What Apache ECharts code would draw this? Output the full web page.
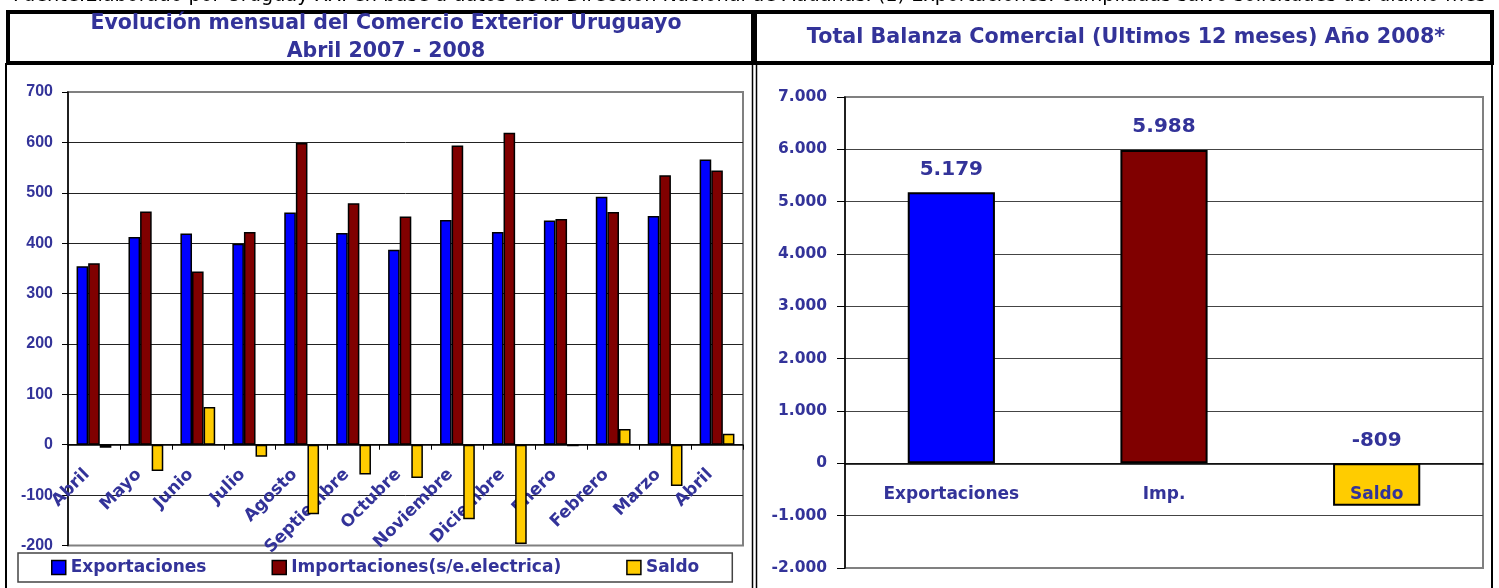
<!DOCTYPE html>
<html>
<head>
    <meta charset='utf-8' />
    <title>Comercio Exterior Uruguayo</title>
    <script src="https://cdn.jsdelivr.net/npm/echarts@6/dist/echarts.min.js"></script>
</head>
<body style='margin:0;background:#fff;'>
<div id='chart' style='width:1499px;height:588px;'></div>

<script type='text/javascript'>
    // datos - grafico mensual
    var meses = ['Abril', 'Mayo', 'Junio', 'Julio', 'Agosto', 'Septiembre', 'Octubre', 'Noviembre', 'Diciembre', 'Enero', 'Febrero', 'Marzo', 'Abril'];
    var exportaciones = [354, 412, 419, 399, 461, 420, 387, 446, 422, 445, 492, 454, 566];
    var importaciones = [360, 463, 344, 422, 599, 479, 453, 594, 619, 448, 462, 535, 544];
    var saldo = [-6, -52, 75, -24, -138, -59, -66, -148, -197, -3, 31, -82, 22];

    // datos - total 12 meses
    var totalCats = ['Exportaciones', 'Imp.', 'Saldo'];
    var totalValores = [5179, 5988, -809];
    var totalColores = ['#0000ff', '#800000', '#ffcc00'];

    var azul = '#333399';
    var fuente = 'DejaVu Sans';

    function miles(v) {
        return String(v).replace(/\B(?=(\d{3})+(?!\d))/g, '.');
    }

    // grids (px)
    var g1 = {left: 68, right: 756, top: 92, bottom: 42.5};
    var g2 = {left: 845, right: 16, top: 97, bottom: 20};
    var H = 588;
    // distancia del cero al borde inferior, para poner el eje de categorias en 0
    var off1 = -(H - g1.top - g1.bottom) * (0 - (-200)) / (700 - (-200));
    var off2 = -(H - g2.top - g2.bottom) * (0 - (-2000)) / (7000 - (-2000));

    var chartDom = document.getElementById('chart');
    var myChart = echarts.init(chartDom);

    var option = {
        animation: false,
        title: [
            {
                text: 'Evolución mensual del Comercio Exterior Uruguayo\nAbril 2007 - 2008',
                left: 386, top: 10, padding: 0,
                textAlign: 'center',
                textStyle: {color: azul, fontFamily: fuente, fontWeight: 'bold', fontSize: 20.5, lineHeight: 28}
            },
            {
                text: 'Total Balanza Comercial (Ultimos 12 meses) Año 2008*',
                left: 1126, top: 24, padding: 0,
                textAlign: 'center',
                textStyle: {color: azul, fontFamily: fuente, fontWeight: 'bold', fontSize: 20.7, lineHeight: 28}
            }
        ],
        graphic: [
            {
                type: 'text', left: 13, top: -14,
                style: {
                    text: 'Fuente:Elaborado por Uruguay XXI en base a datos de la Dirección Nacional de Aduanas. (1) Exportaciones: cumpliadas salvo solicitudes del último mes',
                    font: '19.3px "DejaVu Sans"', fill: '#000'
                }
            },
            // cajas de titulos
            {type: 'rect', shape: {x: 8, y: 12, width: 745, height: 51}, style: {fill: 'none', stroke: '#000', lineWidth: 4}},
            {type: 'rect', shape: {x: 755, y: 12, width: 737, height: 51}, style: {fill: 'none', stroke: '#000', lineWidth: 4}},
            // bordes de los marcos
            {type: 'line', shape: {x1: 6, y1: 63, x2: 6, y2: 588}, style: {stroke: '#000', lineWidth: 2}},
            {type: 'line', shape: {x1: 752.5, y1: 63, x2: 752.5, y2: 588}, style: {stroke: '#000', lineWidth: 1.5}},
            {type: 'line', shape: {x1: 756.5, y1: 63, x2: 756.5, y2: 588}, style: {stroke: '#000', lineWidth: 1.5}},
            {type: 'line', shape: {x1: 1492, y1: 63, x2: 1492, y2: 588}, style: {stroke: '#000', lineWidth: 2}}
        ],
        legend: {
            left: 18, top: 553,
            padding: [6, 33, 6, 33],
            itemGap: 65,
            itemWidth: 14, itemHeight: 14,
            icon: 'rect',
            borderColor: '#444', borderWidth: 1.5,
            itemStyle: {borderColor: '#000', borderWidth: 1.5},
            textStyle: {color: azul, fontFamily: fuente, fontWeight: 'bold', fontSize: 17},
            data: ['Exportaciones', 'Importaciones(s/e.electrica)', 'Saldo']
        },
        grid: [
            {left: g1.left, right: g1.right, top: g1.top, bottom: g1.bottom, outerBoundsMode: 'none', containLabel: false,
                show: true, borderColor: '#808080', borderWidth: 2, backgroundColor: '#fff'},
            {left: g2.left, right: g2.right, top: g2.top, bottom: g2.bottom, outerBoundsMode: 'none', containLabel: false,
                show: true, borderColor: '#808080', borderWidth: 2, backgroundColor: '#fff'}
        ],
        xAxis: [
            {
                // etiquetas por debajo de las barras, como en el original
                type: 'category', gridIndex: 0, data: meses, offset: off1,
                axisLine: {onZero: false, lineStyle: {color: '#000', width: 1.5}},
                axisTick: {show: true, length: 5, lineStyle: {color: '#000'}},
                axisLabel: {rotate: 45, margin: 20, padding: [0, 10, 0, 0], interval: 0, color: azul, fontFamily: fuente, fontWeight: 'bold', fontSize: 17}
            },
            {
                type: 'category', gridIndex: 1, data: totalCats, z: 5, offset: off2,
                axisLine: {onZero: false, lineStyle: {color: '#000', width: 1.5}},
                axisTick: {show: false},
                axisLabel: {margin: 23, color: azul, fontFamily: fuente, fontWeight: 'bold', fontSize: 17}
            }
        ],
        yAxis: [
            {
                type: 'value', gridIndex: 0, min: -200, max: 700, interval: 100,
                axisLine: {show: true, lineStyle: {color: '#000', width: 1.5}},
                axisTick: {show: true, length: 6, lineStyle: {color: '#000'}},
                axisLabel: {margin: 15, color: azul, fontFamily: 'Liberation Sans', fontWeight: 'bold', fontSize: 16},
                splitLine: {show: true, showMinLine: false, showMaxLine: false, lineStyle: {color: '#222', width: 1}}
            },
            {
                type: 'value', gridIndex: 1, min: -2000, max: 7000, interval: 1000,
                axisLine: {show: true, lineStyle: {color: '#000', width: 1.5}},
                axisTick: {show: true, length: 8, lineStyle: {color: '#000'}},
                axisLabel: {margin: 18, color: azul, fontFamily: fuente, fontWeight: 'bold', fontSize: 15.5, formatter: miles},
                splitLine: {show: true, showMinLine: false, showMaxLine: false, lineStyle: {color: '#444', width: 1}}
            }
        ],
        series: [
            {
                name: 'Exportaciones', type: 'bar', xAxisIndex: 0, yAxisIndex: 0,
                data: exportaciones, barGap: '0%', barCategoryGap: '33%',
                itemStyle: {color: '#0000ff', borderColor: '#000', borderWidth: 1.5}
            },
            {
                name: 'Importaciones(s/e.electrica)', type: 'bar', xAxisIndex: 0, yAxisIndex: 0,
                data: importaciones, barGap: '0%', barCategoryGap: '33%',
                itemStyle: {color: '#800000', borderColor: '#000', borderWidth: 1.5}
            },
            {
                name: 'Saldo', type: 'bar', xAxisIndex: 0, yAxisIndex: 0,
                data: saldo, barGap: '0%', barCategoryGap: '33%',
                itemStyle: {color: '#ffcc00', borderColor: '#000', borderWidth: 1.5}
            },
            {
                name: 'Total', type: 'bar', xAxisIndex: 1, yAxisIndex: 1,
                barWidth: '41%',
                data: totalValores.map(function (v, i) {
                    return {value: v, itemStyle: {color: totalColores[i]}};
                }),
                itemStyle: {borderColor: '#000', borderWidth: 2},
                label: {
                    show: true, position: 'top', distance: 13,
                    color: azul, fontFamily: fuente, fontWeight: 'bold', fontSize: 20,
                    formatter: function (p) { return miles(p.value); }
                }
            }
        ]
    };

    myChart.setOption(option);
</script>
</body>
</html>
